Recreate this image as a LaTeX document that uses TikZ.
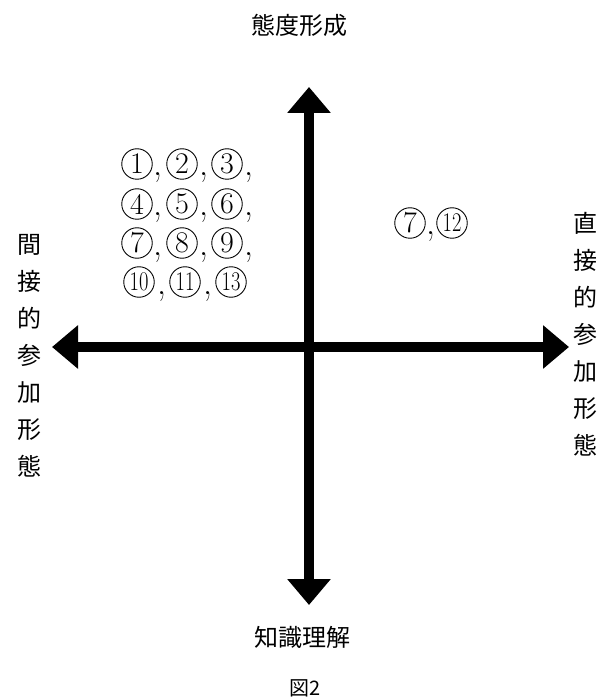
\documentclass[tikz,border=0pt]{standalone}
\usepackage{fontspec}
\newfontfamily\jp{Noto Sans CJK JP}
\usetikzlibrary{arrows.meta}
\tikzset{
  axis/.style={line width=10pt, -{Triangle[length=26pt,width=42pt]}},
  axislabel/.style={font=\jp\fontsize{24}{24}\selectfont, inner sep=0pt},
  vlabel/.style={font=\jp\fontsize{24}{37}\selectfont, align=center, inner sep=0pt},
  circnum/.style={circle, draw, line width=0.9pt, minimum size=30.5pt, inner sep=0pt,
             font=\fontsize{30}{30}\selectfont},
  circnumtwo/.style={circnum, font=\fontsize{27}{27}\selectfont},
  commamark/.style={anchor=base, inner sep=0pt, font=\fontsize{36}{36}\selectfont},
}
\newcommand\twodig[1]{\scalebox{0.76}[1]{#1}}
\begin{document}
\begin{tikzpicture}[x=1pt,y=-1pt]
\useasboundingbox (0,0) rectangle (610,700);
\coordinate (c) at (309,347);
\coordinate (n) at (309,87);
\coordinate (s) at (309,605);
\coordinate (w) at (52,347);
\coordinate (e) at (569,347);
\draw[axis] (c) -- (n);
\draw[axis] (c) -- (s);
\draw[axis] (c) -- (w);
\draw[axis] (c) -- (e);
\node[axislabel] (top) at (299,25) {態度形成};
\node[axislabel] (bottom) at (302,637) {知識理解};
\node[font=\jp\fontsize{20}{20}\selectfont, inner sep=0pt] (fig) at (305,688) {図2};
\node[vlabel] (left) at (29,356) {間\\接\\的\\参\\加\\形\\態};
\node[vlabel] (right) at (585,334) {直\\接\\的\\参\\加\\形\\態};
% quadrant II
\node[circnum] (a1) at (137,164) {1};
\node[commamark] (k1) at (158,176) {,};
\node[circnum] (a2) at (182,164) {2};
\node[commamark] (k2) at (204,176) {,};
\node[circnum] (a3) at (227,164) {3};
\node[commamark] (k3) at (249,176) {,};
\node[circnum] (a4) at (137,204) {4};
\node[commamark] (k4) at (158,216) {,};
\node[circnum] (a5) at (182,204) {5};
\node[commamark] (k5) at (204,216) {,};
\node[circnum] (a6) at (227,204) {6};
\node[commamark] (k6) at (249,216) {,};
\node[circnum] (a7) at (137,243) {7};
\node[commamark] (k7) at (158,255) {,};
\node[circnum] (a8) at (182,243) {8};
\node[commamark] (k8) at (204,255) {,};
\node[circnum] (a9) at (227,243) {9};
\node[commamark] (k9) at (249,255) {,};
\node[circnumtwo] (a10) at (139,282) {\twodig{10}};
\node[commamark] (k10) at (162,294) {,};
\node[circnumtwo] (a11) at (185,282) {\twodig{11}};
\node[commamark] (k11) at (208,294) {,};
\node[circnumtwo] (a13) at (231,282) {\twodig{13}};
% quadrant I
\node[circnum] (b7) at (410,223) {7};
\node[commamark] (kb) at (431,235) {,};
\node[circnumtwo] (b12) at (452,223) {\twodig{12}};
\end{tikzpicture}
\end{document}
